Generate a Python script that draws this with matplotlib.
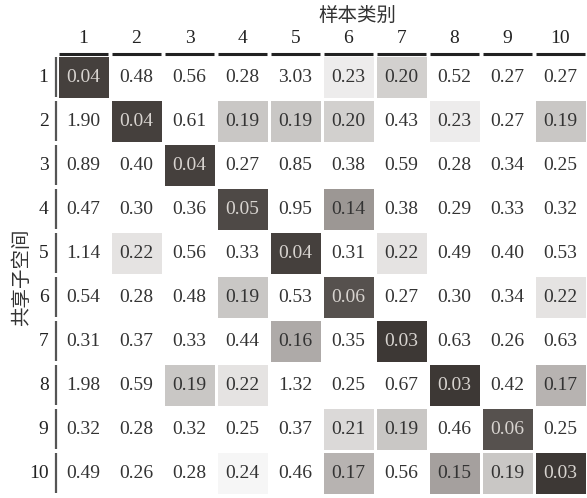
import matplotlib.pyplot as plt
import numpy as np
from matplotlib.colors import LinearSegmentedColormap, Normalize

plt.rcParams['font.family'] = ['Liberation Serif', 'Noto Sans CJK SC']

col_labels = ['1', '2', '3', '4', '5', '6', '7', '8', '9', '10']
row_labels = ['1', '2', '3', '4', '5', '6', '7', '8', '9', '10']

vals = np.array([
    [0.04, 0.48, 0.56, 0.28, 3.03, 0.23, 0.20, 0.52, 0.27, 0.27],
    [1.90, 0.04, 0.61, 0.19, 0.19, 0.20, 0.43, 0.23, 0.27, 0.19],
    [0.89, 0.40, 0.04, 0.27, 0.85, 0.38, 0.59, 0.28, 0.34, 0.25],
    [0.47, 0.30, 0.36, 0.05, 0.95, 0.14, 0.38, 0.29, 0.33, 0.32],
    [1.14, 0.22, 0.56, 0.33, 0.04, 0.31, 0.22, 0.49, 0.40, 0.53],
    [0.54, 0.28, 0.48, 0.19, 0.53, 0.06, 0.27, 0.30, 0.34, 0.22],
    [0.31, 0.37, 0.33, 0.44, 0.16, 0.35, 0.03, 0.63, 0.26, 0.63],
    [1.98, 0.59, 0.19, 0.22, 1.32, 0.25, 0.67, 0.03, 0.42, 0.17],
    [0.32, 0.28, 0.32, 0.25, 0.37, 0.21, 0.19, 0.46, 0.06, 0.25],
    [0.49, 0.26, 0.28, 0.24, 0.46, 0.17, 0.56, 0.15, 0.19, 0.03],
])

# small values dark, anything >= 0.25 white
cmap = LinearSegmentedColormap.from_list('g', ['#3d3835', '#9c9794', '#ffffff'])
norm = Normalize(vmin=0.03, vmax=0.25, clip=True)

fig = plt.figure(figsize=(5.87, 4.98), dpi=100)
ax = fig.add_axes([57/587, 3/498, 530/587, 440/498])
n = len(row_labels)
ax.pcolormesh(vals, cmap=cmap, norm=norm, edgecolors='white', linewidth=1.0)
ax.set_xlim(0, n)
ax.set_ylim(n, 0)
ax.axis('off')

for i in range(n):
    for j in range(n):
        v = vals[i, j]
        c = '#d8d4d0' if v < 0.1 else '#333333'
        ax.text(j + 0.5, i + 0.5, '%.2f' % v, ha='center', va='center', fontsize=14, color=c)

# header marks and row marks
for j in range(n):
    ax.plot([j + 0.03, j + 0.97], [-0.03, -0.03], color='#222222', lw=2.2, clip_on=False, solid_capstyle='butt')
    ax.text(j + 0.5, -0.38, col_labels[j], ha='center', va='center', fontsize=14, color='#222222')
for i in range(n):
    ax.plot([-0.02, -0.02], [i + 0.04, i + 0.96], color='#555555', lw=1.6, clip_on=False, solid_capstyle='butt')
    ax.text(-0.16, i + 0.5, row_labels[i], ha='right', va='center', fontsize=14, color='#222222')

fig.text(357/587, 1 - 16/498, '样本类别', ha='center', va='center', fontsize=14, color='#333333')
fig.text(22/587, 1 - 277/498, '共享子空间', ha='center', va='center', fontsize=14, rotation=90, color='#333333')

fig.savefig('out.png', dpi=100, facecolor='white')
